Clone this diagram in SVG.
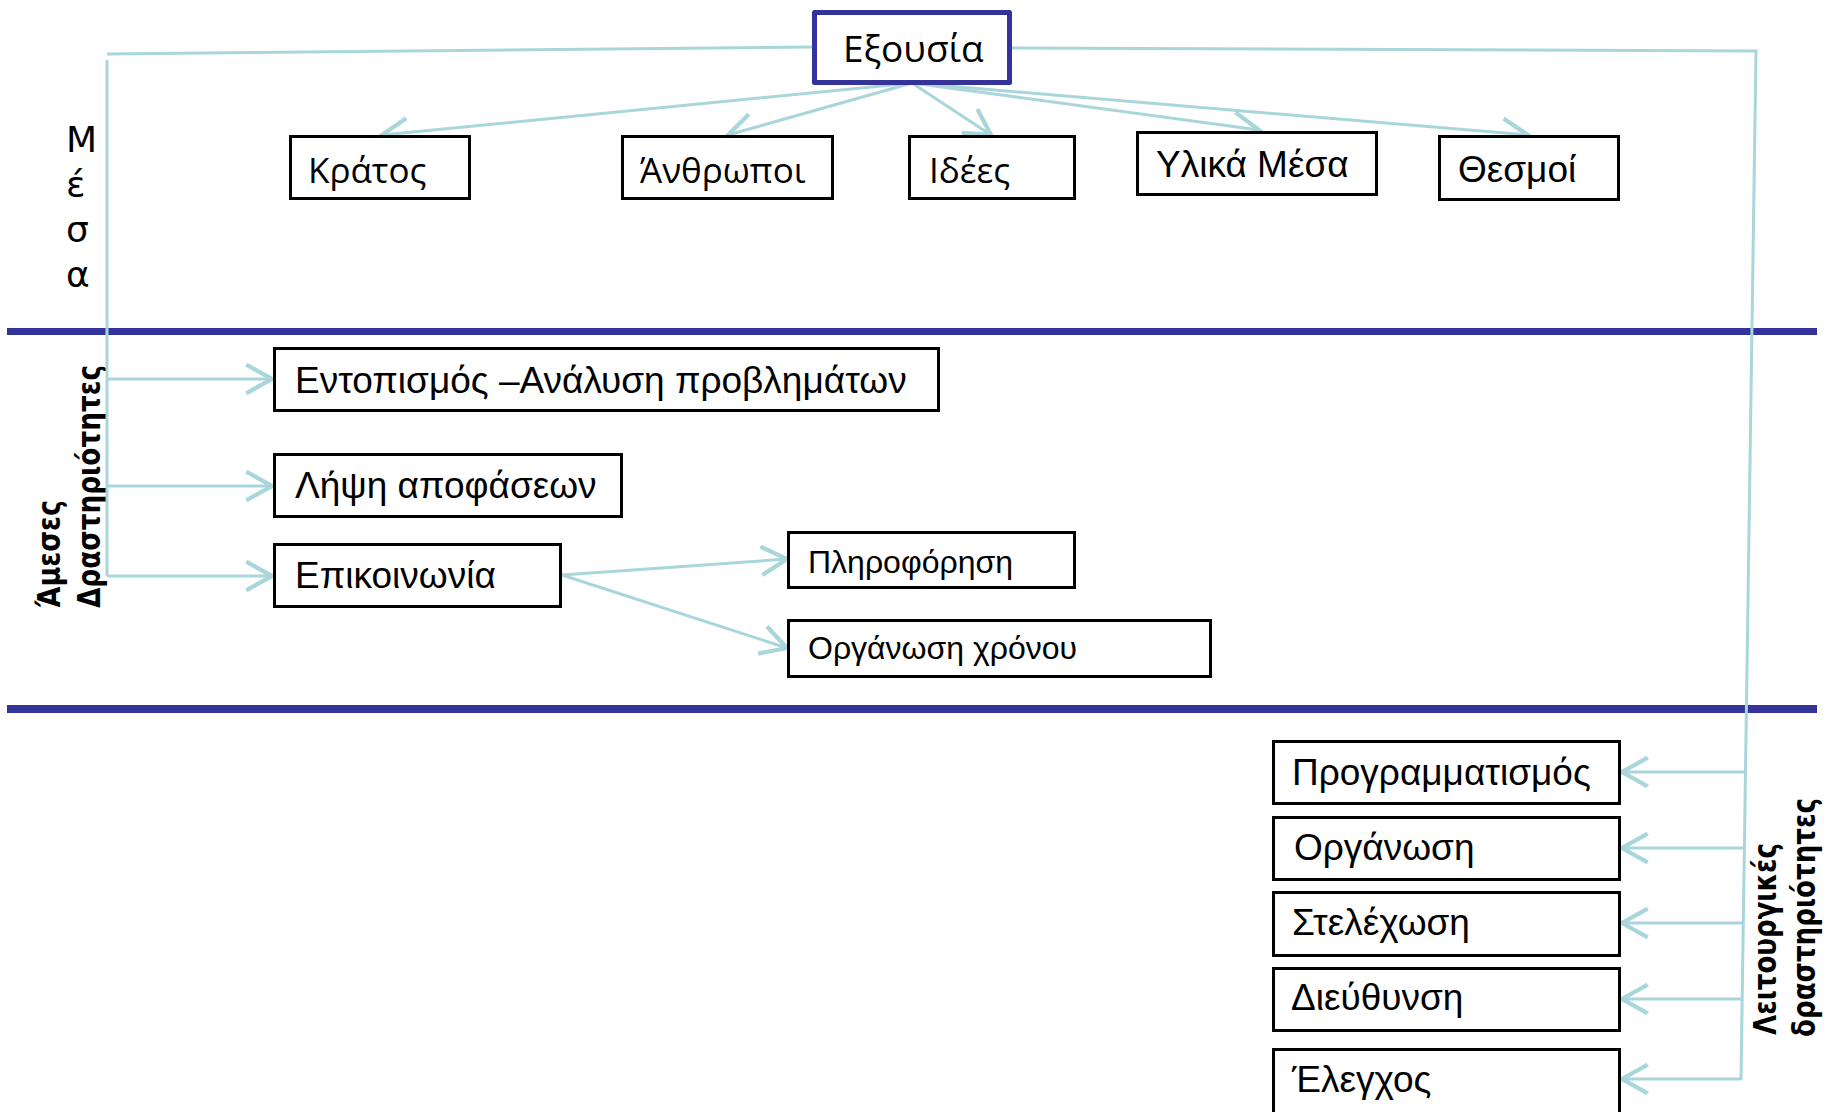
<svg xmlns="http://www.w3.org/2000/svg" width="1828" height="1112" viewBox="0 0 1828 1112">
  <style>
    .box { fill: #ffffff; stroke: #000000; stroke-width: 3; }
    .root { fill: #ffffff; stroke: #333399; stroke-width: 5; stroke-linejoin: round; }
    .band { fill: #333399; }
    .link { fill: none; stroke: #a9d6da; stroke-width: 3; }
    .arrow { marker-end: url(#chev); }
    .t { font-family: "Liberation Sans", Arial, sans-serif; font-size: 37px; fill: #000000; }
    .ts { font-family: "Liberation Sans", Arial, sans-serif; font-size: 32px; fill: #000000; }
    .h { font-family: "Open Sans", "Noto Sans", sans-serif; font-size: 35px; fill: #000000; }
    .side { font-family: "DejaVu Sans", sans-serif; font-size: 36px; fill: #000000; }
    .vert { font-family: "DejaVu Sans Condensed", "DejaVu Sans", sans-serif; font-size: 31px; font-weight: bold; font-style: normal; fill: #000000; }
  </style>
  <defs>
    <marker id="chev" markerUnits="userSpaceOnUse" markerWidth="40" markerHeight="40" refX="0" refY="0" viewBox="-22 -14 26 28" orient="auto" overflow="visible">
      <path d="M -18 -10 L 0 0 L -18 10" fill="none" stroke="#a9d6da" stroke-width="3" stroke-linejoin="miter"/>
    </marker>
  </defs>

  <rect width="1828" height="1112" fill="#ffffff"/>

  <!-- section dividers -->
  <rect class="band" x="7" y="328" width="1810" height="7"/>
  <rect class="band" x="7" y="705" width="1810" height="8"/>

  <!-- side labels -->
  <g id="label-mesa" class="side">
    <text x="66" y="152">Μ</text>
    <text x="66" y="197">έ</text>
    <text x="66" y="242">σ</text>
    <text x="66" y="287">α</text>
  </g>
  <g id="label-ameses" class="vert">
    <text transform="translate(60,608) rotate(-90)" textLength="108" lengthAdjust="spacingAndGlyphs">Άμεσες</text>
    <text transform="translate(100,608) rotate(-90)" textLength="243" lengthAdjust="spacingAndGlyphs">Δραστηριότητες</text>
  </g>
  <g id="label-leitourgikes" class="vert">
    <text transform="translate(1776,1035) rotate(-90)" textLength="192" lengthAdjust="spacingAndGlyphs">Λειτουργικές</text>
    <text transform="translate(1815,1037) rotate(-90)" textLength="239" lengthAdjust="spacingAndGlyphs">δραστηριότητες</text>
  </g>

  <!-- connectors -->
  <g id="connectors">
    <!-- left trunk -->
    <polyline class="link" points="813,47 107,54"/>
    <line class="link" x1="107" y1="60" x2="107" y2="576"/>
    <line class="link arrow" x1="107" y1="379" x2="272" y2="379"/>
    <line class="link arrow" x1="107" y1="486" x2="272" y2="486"/>
    <line class="link arrow" x1="107" y1="576" x2="272" y2="576"/>
    <!-- right trunk -->
    <polyline class="link" points="1012,48 1756,51 1741,1080"/>
    <line class="link arrow" x1="1745" y1="772" x2="1622" y2="772"/>
    <line class="link arrow" x1="1744" y1="848" x2="1622" y2="848"/>
    <line class="link arrow" x1="1743" y1="923" x2="1622" y2="923"/>
    <line class="link arrow" x1="1742" y1="999" x2="1622" y2="999"/>
    <line class="link arrow" x1="1741" y1="1079" x2="1622" y2="1079"/>
    <!-- fan-out to resources -->
    <line class="link arrow" x1="912" y1="83" x2="382" y2="135"/>
    <line class="link arrow" x1="912" y1="83" x2="728" y2="135"/>
    <line class="link arrow" x1="912" y1="83" x2="991" y2="135"/>
    <line class="link arrow" x1="912" y1="83" x2="1259" y2="130"/>
    <line class="link arrow" x1="912" y1="83" x2="1528" y2="135"/>
    <!-- communication sub-items -->
    <line class="link arrow" x1="562" y1="575" x2="787" y2="559"/>
    <line class="link arrow" x1="562" y1="575" x2="787" y2="648"/>
  </g>

  <!-- root -->
  <g id="node-exousia">
    <rect class="root" x="814.5" y="12.5" width="195" height="70"/>
    <text class="h" x="843" y="62" style="font-size:37px">Εξουσία</text>
  </g>

  <!-- resources -->
  <g id="node-kratos">
    <rect class="box" x="290.5" y="136.5" width="179" height="62"/>
    <text class="h" x="308" y="183">Κράτος</text>
  </g>
  <g id="node-anthropoi">
    <rect class="box" x="622.5" y="136.5" width="210" height="62"/>
    <text class="h" x="640" y="183">Άνθρωποι</text>
  </g>
  <g id="node-idees">
    <rect class="box" x="909.5" y="136.5" width="165" height="62"/>
    <text class="h" x="929" y="183">Ιδέες</text>
  </g>
  <g id="node-ylika">
    <rect class="box" x="1137.5" y="132.5" width="239" height="62"/>
    <text class="t" x="1156" y="177">Υλικά Μέσα</text>
  </g>
  <g id="node-thesmoi">
    <rect class="box" x="1439.5" y="136.5" width="179" height="63"/>
    <text class="t" x="1458" y="182">Θεσμοί</text>
  </g>

  <!-- direct activities -->
  <g id="node-entopismos">
    <rect class="box" x="274.5" y="348.5" width="664" height="62"/>
    <text class="t" x="295" y="393">Εντοπισμός –Ανάλυση προβλημάτων</text>
  </g>
  <g id="node-lipsi">
    <rect class="box" x="274.5" y="454.5" width="347" height="62"/>
    <text class="t" x="295" y="498">Λήψη αποφάσεων</text>
  </g>
  <g id="node-epikoinonia">
    <rect class="box" x="274.5" y="544.5" width="286" height="62"/>
    <text class="t" x="295" y="588">Επικοινωνία</text>
  </g>
  <g id="node-pliroforisi">
    <rect class="box" x="788.5" y="532.5" width="286" height="55"/>
    <text class="ts" x="808" y="573">Πληροφόρηση</text>
  </g>
  <g id="node-organosi-xronou">
    <rect class="box" x="788.5" y="620.5" width="422" height="56"/>
    <text class="ts" x="808" y="659">Οργάνωση χρόνου</text>
  </g>

  <!-- operational activities -->
  <g id="node-programmatismos">
    <rect class="box" x="1273.5" y="741.5" width="346" height="62"/>
    <text class="t" x="1292" y="785">Προγραμματισμός</text>
  </g>
  <g id="node-organosi">
    <rect class="box" x="1273.5" y="817.5" width="346" height="62"/>
    <text class="t" x="1294" y="860">Οργάνωση</text>
  </g>
  <g id="node-stelexosi">
    <rect class="box" x="1273.5" y="892.5" width="346" height="63"/>
    <text class="t" x="1292" y="935">Στελέχωση</text>
  </g>
  <g id="node-dieythynsi">
    <rect class="box" x="1273.5" y="968.5" width="346" height="62"/>
    <text class="t" x="1291" y="1010">Διεύθυνση</text>
  </g>
  <g id="node-elegxos">
    <rect class="box" x="1273.5" y="1049.5" width="346" height="70"/>
    <text class="t" x="1292" y="1092">Έλεγχος</text>
  </g>
</svg>
